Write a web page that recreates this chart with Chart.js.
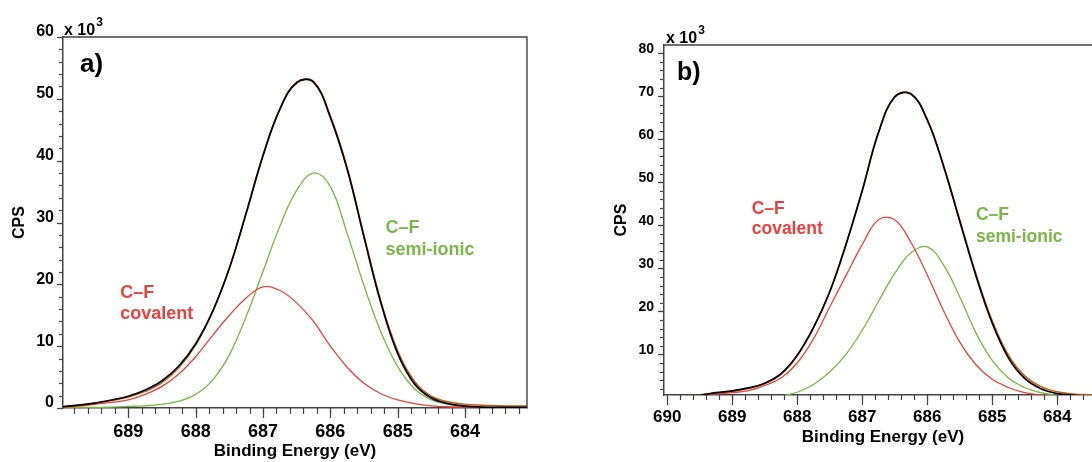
<!DOCTYPE html>
<html><head><meta charset="utf-8">
<script src="https://cdn.jsdelivr.net/npm/chart.js@4.4.1/dist/chart.umd.min.js"></script>
<style>
html,body{margin:0;padding:0;background:#fff;overflow:hidden;width:1092px;height:462px;}
#wa{position:absolute;left:0;top:0;width:545px;height:462px;}
#wb{position:absolute;left:570px;top:0;width:550px;height:462px;}
canvas{display:block;}
</style></head><body>
<div id="wa"><canvas id="ca" width="545" height="462"></canvas></div>
<div id="wb"><canvas id="cb" width="550" height="462"></canvas></div>
<script>
// ---------- Panel a) data (Binding energy in eV, CPS in x10^3) ----------
const A_E    = [689.97, 689.75, 689.5, 689.25, 689.0, 688.75, 688.5, 688.25, 688.0, 687.75, 687.5, 687.25, 687.0, 686.75, 686.5, 686.25, 686.0, 685.75, 685.5, 685.25, 685.0, 684.75, 684.5, 684.25, 684.0, 683.75, 683.5, 683.25, 683.08];
const A_ENV  = [0.2, 0.45, 0.8, 1.3, 1.9, 2.9, 4.4, 6.8, 10.4, 15.6, 22.6, 31.5, 40.8, 48.3, 52.6, 52.7, 47.0, 38.6, 27.6, 17.0, 8.8, 3.9, 1.6, 0.7, 0.3, 0.15, 0.1, 0.1, 0.1];
const A_RAW  = [0.2, 0.4, 0.75, 1.2, 1.8, 2.7, 4.1, 6.5, 10.2, 15.5, 22.6, 31.6, 40.9, 48.4, 52.7, 52.8, 47.2, 38.8, 27.9, 17.3, 9.2, 4.3, 1.9, 1.0, 0.6, 0.45, 0.35, 0.3, 0.3];
const A_COV  = [0.1, 0.3, 0.6, 0.9, 1.3, 2.2, 3.5, 5.5, 8.3, 11.7, 15.0, 17.8, 19.6, 19.0, 17.0, 14.0, 10.0, 6.6, 4.0, 2.3, 1.3, 0.7, 0.35, 0.2, 0.15, 0.1, 0.1, 0.1, 0.1];
const A_SEMI = [0.05, 0.05, 0.1, 0.15, 0.25, 0.35, 0.6, 1.1, 2.2, 4.5, 8.6, 14.8, 22.1, 29.4, 35.2, 38.0, 35.8, 28.2, 19.8, 12.3, 6.7, 3.1, 1.3, 0.6, 0.3, 0.15, 0.1, 0.05, 0.05];
const A_XTICKS = [689, 688, 687, 686, 685, 684];
const A_YTICKS = [0, 10, 20, 30, 40, 50, 60];

// ---------- Panel b) data ----------
const B_E    = [689.5, 689.25, 689.0, 688.75, 688.5, 688.25, 688.0, 687.75, 687.5, 687.25, 687.0, 686.75, 686.5, 686.25, 686.0, 685.75, 685.5, 685.25, 685.0, 684.75, 684.5, 684.25, 684.0, 683.75, 683.5, 683.31];
const B_ENV  = [0.5, 1.1, 1.5, 2.2, 3.3, 5.5, 9.8, 16.2, 24.5, 35.5, 48.0, 61.5, 69.8, 70.5, 64.5, 53.8, 41.0, 28.3, 17.3, 9.2, 4.4, 2.0, 0.9, 0.5, 0.3, 0.25];
const B_RAW  = [0.6, 1.0, 1.4, 2.1, 3.2, 5.4, 9.7, 16.2, 24.6, 35.6, 48.1, 61.6, 69.9, 70.6, 64.7, 54.0, 41.3, 28.7, 17.8, 9.8, 5.0, 2.5, 1.3, 0.8, 0.6, 0.5];
const B_COV  = [0.5, 0.8, 1.1, 1.6, 2.8, 4.5, 8.0, 13.6, 21.0, 28.3, 35.5, 41.3, 41.3, 36.0, 28.5, 20.2, 12.9, 7.6, 4.2, 2.3, 1.1, 0.6, 0.3, 0.2, 0.1, 0.1];
const B_SEMI = [null, null, null, null, null, 0.3, 1.2, 3.0, 5.9, 10.0, 15.6, 22.3, 28.8, 33.6, 35.0, 30.8, 23.4, 15.0, 8.6, 4.5, 2.3, 1.1, 0.5, 0.25, 0.15, 0.1];
const B_XTICKS = [690, 689, 688, 687, 686, 685, 684];
const B_YTICKS = [10, 20, 30, 40, 50, 60, 70, 80];

const LABEL_COV = ['C\u2013F', 'covalent'];
const LABEL_SEMI = ['C\u2013F', 'semi-ionic'];

// ---------- style ----------
const FONT = '"Liberation Sans", Arial, Helvetica, sans-serif';
const RED = '#e8413e', GREEN = '#7ab648', BLACK = '#000000', BROWN = '#c0601e', AXIS = '#444444';

function minorList(lo, hi, step) { const out = []; for (let v = lo; v <= hi + 1e-9; v += step) out.push(+v.toFixed(3)); return out; }

const tickPlugin = {
  id: 'xpsDecor',
  afterDraw(chart, args, o) {
    const ctx = chart.ctx, ca = chart.chartArea, xs = chart.scales.x, ys = chart.scales.y;
    ctx.save();
    ctx.strokeStyle = AXIS; ctx.lineWidth = 1.4;
    ctx.beginPath();
    ctx.moveTo(ca.left, ca.top); ctx.lineTo(ca.right, ca.top); ctx.lineTo(ca.right, ca.bottom);
    ctx.stroke();
    ctx.lineWidth = 1.2;
    const xt = (vals, len) => vals.forEach(v => { if (v < xs.min || v > xs.max) return; const p = Math.round(xs.getPixelForValue(v)) + 0.5; ctx.beginPath(); ctx.moveTo(p, ca.bottom); ctx.lineTo(p, ca.bottom + len); ctx.stroke(); });
    const yt = (vals, len) => vals.forEach(v => { if (v < ys.min || v > ys.max) return; const p = Math.round(ys.getPixelForValue(v)) + 0.5; ctx.beginPath(); ctx.moveTo(ca.left, p); ctx.lineTo(ca.left - len, p); ctx.stroke(); });
    xt(o.xMinor, o.xMinorLen); xt(o.xMajor, o.xMajorLen);
    yt(o.yMinor, o.yMinorLen); yt(o.yMajor, o.yMajorLen);
    // annotations in data coordinates
    o.notes.forEach(n => {
      ctx.fillStyle = n.color; ctx.font = 'bold ' + n.size + 'px ' + FONT; ctx.textAlign = 'left'; ctx.textBaseline = 'alphabetic';
      n.lines.forEach((t, i) => ctx.fillText(t, xs.getPixelForValue(n.e), ys.getPixelForValue(n.v[i])));
    });
    // panel letter and multiplier
    ctx.fillStyle = '#000';
    ctx.font = 'bold ' + o.letterSize + 'px ' + FONT;
    ctx.fillText(o.letter, ca.left + o.letterDx, ca.top + o.letterDy);
    ctx.font = 'bold ' + o.multSize + 'px ' + FONT;
    ctx.fillText('x 10', ca.left + o.multDx, ca.top + o.multDy);
    const w = ctx.measureText('x 10').width;
    ctx.font = 'bold ' + Math.round(o.multSize * 0.72) + 'px ' + FONT;
    ctx.fillText('3', ca.left + o.multDx + w + 1, ca.top + o.multDy - 9);
    ctx.restore();
  }
};

function ds(E, V, color, width) {
  return { data: E.map((e, i) => ({ x: e, y: V[i] })), borderColor: color, borderWidth: width, pointRadius: 0, fill: false, tension: 0.4, spanGaps: false };
}

function makeChart(id, cfg) {
  return new Chart(document.getElementById(id), {
    type: 'line',
    data: { datasets: [ds(cfg.E, cfg.env, BLACK, 1.7), ds(cfg.E, cfg.raw, BROWN, 1.6), ds(cfg.E, cfg.cov, RED, 1.3), ds(cfg.E, cfg.semi, GREEN, 1.3)] },
    options: {
      responsive: false, animation: false, events: [],
      layout: { padding: { left: 0, top: cfg.top, right: cfg.right, bottom: 0 } },
      plugins: { legend: { display: false }, tooltip: { enabled: false }, xpsDecor: cfg.decor },
      scales: {
        x: {
          type: 'linear', reverse: true, min: cfg.xmin, max: cfg.xmax,
          afterBuildTicks: s => { s.ticks = cfg.xticks.map(v => ({ value: v })); },
          afterFit: s => { s.height = cfg.xh; },
          grid: { display: false, drawTicks: false },
          border: { display: true, color: AXIS, width: 1.5 },
          ticks: { color: '#000', font: { family: FONT, size: cfg.xfs, weight: 'bold' }, padding: cfg.xpad, maxRotation: 0, autoSkip: false, callback: v => String(v) },
          title: { display: true, text: 'Binding Energy (eV)', color: '#000', font: { family: FONT, size: 17, weight: 'bold' }, padding: { top: 0, bottom: cfg.xtp } }
        },
        y: {
          type: 'linear', min: cfg.ymin, max: cfg.ymax,
          afterBuildTicks: s => { s.ticks = cfg.yticks.map(v => ({ value: v })); },
          afterFit: s => { s.width = cfg.yw; },
          grid: { display: false, drawTicks: false },
          border: { display: true, color: AXIS, width: 1.5 },
          ticks: { color: '#000', font: { family: FONT, size: cfg.yfs, weight: 'bold' }, padding: cfg.ypad, labelOffset: cfg.ylo, autoSkip: false, callback: v => String(v) },
          title: { display: true, text: 'CPS', color: '#000', font: { family: FONT, size: 16, weight: 'bold' }, padding: { top: cfg.ytp, bottom: 0 } }
        }
      }
    },
    plugins: [tickPlugin]
  });
}

makeChart('ca', {
  E: A_E, env: A_ENV, raw: A_RAW, cov: A_COV, semi: A_SEMI,
  xmin: 683.08, xmax: 689.97, ymin: 0, ymax: 60, xticks: A_XTICKS, yticks: A_YTICKS,
  top: 37, right: 18, xh: 54, yw: 63, xfs: 18, yfs: 16, xpad: 13, ypad: 9, ylo: -5, xtp: 0, ytp: 10,
  decor: {
    xMajor: A_XTICKS, xMinor: minorList(683.2, 689.8, 0.2), xMajorLen: 10, xMinorLen: 6,
    yMajor: A_YTICKS, yMinor: minorList(0, 60, 2), yMajorLen: 6, yMinorLen: 4,
    notes: [
      { lines: LABEL_COV, e: 689.12, v: [17.85, 14.4], color: RED, size: 18 },
      { lines: LABEL_SEMI, e: 685.18, v: [28.3, 24.76], color: GREEN, size: 18 }
    ],
    letter: 'a)', letterSize: 26, letterDx: 17, letterDy: 35,
    multSize: 16, multDx: 1, multDy: -2
  }
});

makeChart('cb', {
  E: B_E, env: B_ENV, raw: B_RAW, cov: B_COV, semi: B_SEMI,
  xmin: 683.31, xmax: 690.05, ymin: 0.56, ymax: 81.9, xticks: B_XTICKS, yticks: B_YTICKS,
  top: 45, right: 18, xh: 67, yw: 94, xfs: 17, yfs: 14, xpad: 12, ypad: 10, ylo: -4, xtp: 14.3, ytp: 42.4,
  decor: {
    xMajor: B_XTICKS, xMinor: minorList(683.4, 690.0, 0.2), xMajorLen: 10, xMinorLen: 5,
    yMajor: B_YTICKS, yMinor: minorList(2, 80, 2), yMajorLen: 6, yMinorLen: 4,
    notes: [
      { lines: LABEL_COV, e: 688.70, v: [42.7, 37.9], color: RED, size: 17.5 },
      { lines: LABEL_SEMI, e: 685.25, v: [41.2, 36.1], color: GREEN, size: 17.5 }
    ],
    letter: 'b)', letterSize: 25, letterDx: 13, letterDy: 35,
    multSize: 16, multDx: 2, multDy: -2
  }
});
</script>
</body></html>
